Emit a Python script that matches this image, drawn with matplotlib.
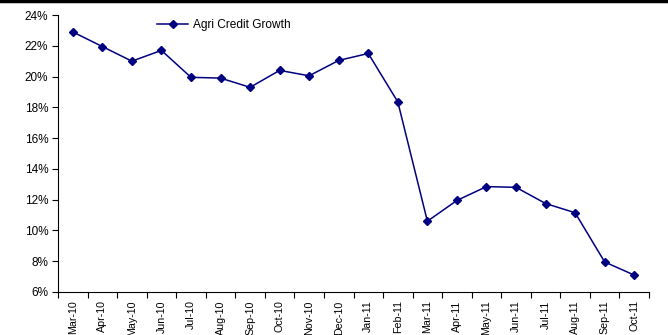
import matplotlib
matplotlib.use("Agg")
import matplotlib.pyplot as plt
from matplotlib.ticker import FixedLocator, PercentFormatter
from matplotlib.lines import Line2D

months = ['Mar-10', 'Apr-10', 'May-10', 'Jun-10', 'Jul-10', 'Aug-10', 'Sep-10',
          'Oct-10', 'Nov-10', 'Dec-10', 'Jan-11', 'Feb-11', 'Mar-11', 'Apr-11',
          'May-11', 'Jun-11', 'Jul-11', 'Aug-11', 'Sep-11', 'Oct-11']
growth = [22.9, 21.95, 21.0, 21.7, 19.95, 19.9, 19.3, 20.4, 20.05, 21.05,
          21.5, 18.35, 10.6, 11.95, 12.85, 12.8, 11.75, 11.15, 7.95, 7.1]

plt.rcParams['font.family'] = ['Liberation Sans', 'DejaVu Sans']

fig = plt.figure(figsize=(6.68, 3.35), dpi=100)
ax = fig.add_axes([58 / 668, 43 / 335, 591 / 668, 277 / 335])

x = list(range(len(months)))
ax.plot(x, growth, color='#000080', lw=1.1, marker='D', markersize=4,
        label='Agri Credit Growth')

ax.set_xlim(-0.5, len(months) - 0.5)
ax.set_ylim(6, 24)
ax.set_yticks(range(6, 25, 2))
ax.yaxis.set_major_formatter(PercentFormatter(decimals=0))
ax.set_xticks(x)
ax.set_xticklabels(months, rotation=90)
ax.xaxis.set_minor_locator(FixedLocator([i - 0.5 for i in range(len(months) + 1)]))
ax.tick_params(axis='x', which='major', length=0, pad=6, labelsize=7.7)
ax.tick_params(axis='x', which='minor', length=4, width=0.8, direction='out')
ax.tick_params(axis='y', length=4, width=0.8, direction='out', labelsize=8.5, pad=3)

for s in ['top', 'right']:
    ax.spines[s].set_visible(False)
for s in ['left', 'bottom']:
    ax.spines[s].set_linewidth(0.8)

ax.legend(loc='upper left', bbox_to_anchor=(0.15, 1.025), frameon=False,
          fontsize=8.6, handlelength=2.6, handletextpad=0.35)

fig.add_artist(Line2D([0, 1], [0.997, 0.997], color='black', lw=2.5,
                      transform=fig.transFigure))

fig.savefig('out.png', dpi=100)
